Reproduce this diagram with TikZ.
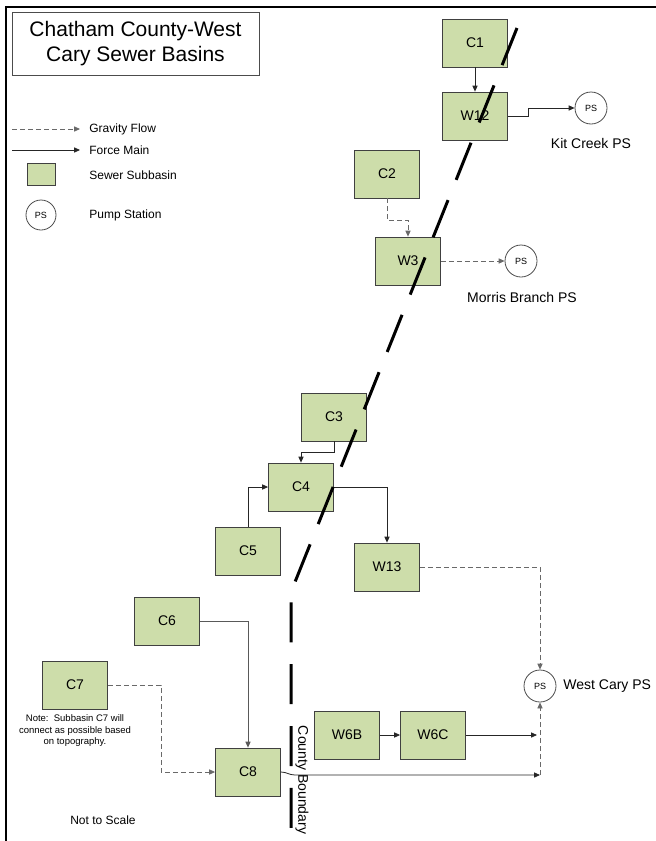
\documentclass[tikz,border=0pt]{standalone}
\usepackage{fontspec}
\setmainfont{Liberation Sans}
\usetikzlibrary{arrows.meta}

\definecolor{basingreen}{RGB}{205,221,170}
\definecolor{flowgray}{RGB}{105,105,105}

\begin{document}
\begin{tikzpicture}[x=0.5pt,y=-0.5pt]
  \tikzstyle{every node} = [inner sep = 0,
			    font = \fontsize{7}{8}\selectfont]
\tikzset{Subbasin/.style={draw=black!75, fill=basingreen, minimum width=32.5pt, minimum height=24pt}}
\tikzset{Pump/.style={draw=black!70, circle, minimum size=16pt, font=\fontsize{4.5}{5}\selectfont}}
\tikzset{Force/.style={black!85, -{Triangle[length=3pt,width=2.6pt]}}}
\tikzset{Gravity/.style={flowgray, dash pattern=on 2.5pt off 1.5pt, -{Triangle[length=3pt,width=2.6pt]}}}
\tikzset{Boundary/.style={line width=1.5pt, dash pattern=on 20pt off 10.9pt}}
\tikzset{Small/.style={font=\fontsize{6}{7}\selectfont}}
\useasboundingbox (0,0) rectangle (656,841);
\draw[line width=1.2pt] (6,841) -- (6,7) -- (656,7);

% title and legend
\node[draw=black!70, minimum width=123.5pt, minimum height=31.5pt, align=center,
      font=\fontsize{10.5}{12.5}\selectfont] (title) at (135.5,43.5) {Chatham County-West\\Cary Sewer Basins};
\coordinate (g0) at (12,129);
\coordinate (g1) at (80,129);
\coordinate (f0) at (12,150);
\coordinate (f1) at (80,150);
\draw[Gravity] (g0) -- (g1);
\draw[Force] (f0) -- (f1);
\node[Small, anchor=west] (gtext) at (89,129) {Gravity Flow};
\node[Small, anchor=west] (ftext) at (89,150) {Force Main};
\node[Subbasin, minimum width=14pt, minimum height=11pt] (lbasin) at (41,174) {};
\node[Small, anchor=west] (btext) at (89,175) {Sewer Subbasin};
\node[Pump, minimum size=15pt] (lpump) at (41,215) {PS};
\node[Small, anchor=west] (ptext) at (89,215) {Pump Station};

% subbasins
\node[Subbasin] (C1) at (475,43) {C1};
\node[Subbasin] (W12) at (475,116) {W12};
\node[Subbasin] (C2) at (387,174) {C2};
\node[Subbasin] (W3) at (408,261) {W3};
\node[Subbasin] (C3) at (334,417) {C3};
\node[Subbasin] (C4) at (301,487) {C4};
\node[Subbasin] (C5) at (248,551) {C5};
\node[Subbasin] (W13) at (387,567) {W13};
\node[Subbasin] (C6) at (167,621) {C6};
\node[Subbasin] (C7) at (75,685) {C7};
\node[Subbasin] (C8) at (248,772) {C8};
\node[Subbasin] (W6B) at (347,735) {W6B};
\node[Subbasin] (W6C) at (433,735) {W6C};

% pump stations
\node[Pump] (KitPS) at (591,108) {PS};
\node[anchor=center] (kitlabel) at (591,143) {Kit Creek PS};
\node[Pump] (MorrisPS) at (521,261) {PS};
\node[anchor=center] (morrislabel) at (522,297) {Morris Branch PS};
\node[Pump] (WestPS) at (540,686) {PS};
\node[anchor=west] (westlabel) at (563,686) {West Cary PS};

% flows
\draw[Force] (C1) -- (W12);
\draw[Force] (W12.east) -- ++(20,0) |- (KitPS.west);
\draw[Gravity] (C2.south) -- ++(0,22) -| (W3.north);
\draw[Gravity] (W3.east) -- (MorrisPS.west);
\draw[Force] (C3.south) -- ++(0,11) -| (C4.north);
\draw[Force] (C5.north) |- (C4.west);
\draw[Force] (C4.east) -| (W13.north);
\draw[Gravity] (W13.east) -| (WestPS.north);
\draw[Force, black!65] (C6.east) -| (C8.north);
\draw[Gravity] (C7.east) -- ++(53,0) |- (C8.west);
\draw[Force] (W6B) -- (W6C);
\coordinate (w6end) at (537,735);
\draw[Force] (W6C.east) -- (w6end);
\coordinate (join) at (540,775);
\draw[Force] (C8.east) to[out=0,in=180] ++(14,3) -- (join);
\draw[Gravity] (join) -- (WestPS.south);

% county line
\draw[Boundary] (517,28) -- (291,592) -- (291,841);
\node[rotate=-90] (county) at (302,780) {County Boundary};

\node[align=center, font=\fontsize{4.75}{5.75}\selectfont] (note) at (75,731) {Note:\ \ Subbasin C7 will\\connect as possible based\\on topography.};
\node[Small] (scale) at (103,820) {Not to Scale};
\end{tikzpicture}
\end{document}
